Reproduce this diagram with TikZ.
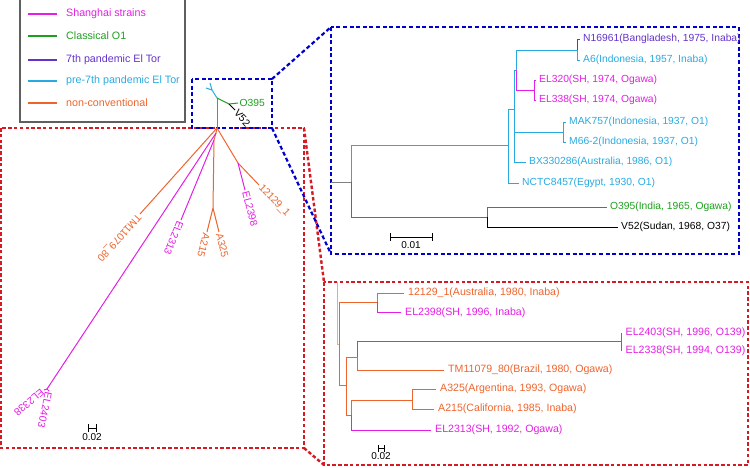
\documentclass[tikz,border=0pt]{standalone}
\usepackage{fontspec}
\setmainfont{Liberation Sans}
\definecolor{shmag}{RGB}{228,30,228}
\definecolor{clgreen}{RGB}{30,160,30}
\definecolor{elpurple}{RGB}{100,50,200}
\definecolor{precyan}{RGB}{40,170,225}
\definecolor{ncorange}{RGB}{238,100,45}
\definecolor{peach}{RGB}{240,170,130}
\definecolor{bluebox}{RGB}{0,0,205}
\definecolor{redbox}{RGB}{215,25,35}
\definecolor{legendgray}{RGB}{95,95,95}
\definecolor{rootgray}{RGB}{128,128,128}
\begin{document}
\begin{tikzpicture}[x=1pt,y=-1pt,
  br/.style={line width=1pt},
  lb/.style={inner xsep=3.5pt, inner ysep=0pt, anchor=west, font=\fontsize{10.3}{12}\selectfont},
  lr/.style={inner xsep=4.5pt, inner ysep=0pt, anchor=west, font=\fontsize{10.6}{12}\selectfont},
  lu/.style={inner xsep=1.5pt, inner ysep=0pt, anchor=west, font=\fontsize{10.3}{12}\selectfont},
  lg/.style={inner sep=0pt, anchor=west, font=\fontsize{10.7}{12}\selectfont},
  sc/.style={inner sep=0pt, font=\fontsize{10}{12}\selectfont},
  keyline/.style={line width=1.6pt},
  bluedash/.style={draw=bluebox, line width=2.2pt, dash pattern=on 4pt off 2.6pt},
  reddash/.style={draw=redbox, line width=2.4pt, dash pattern=on 3.5pt off 2.3pt}]
\useasboundingbox (0,0) rectangle (750,467);

% ---------- legend ----------
\draw[draw=legendgray, line width=1.3pt] (20,-2) rectangle (185,122);
\coordinate (k1) at (28,14);  \node[lg, text=shmag] (kt1) at (66,14) {Shanghai strains};
\coordinate (k2) at (28,36);  \node[lg, text=clgreen] (kt2) at (66,36) {Classical O1};
\coordinate (k3) at (28,60);  \node[lg, text=elpurple] (kt3) at (66,60) {7th pandemic El Tor};
\coordinate (k4) at (28,81);  \node[lg, text=precyan] (kt4) at (66,81) {pre-7th pandemic El Tor};
\coordinate (k5) at (28,103); \node[lg, text=ncorange] (kt5) at (66,103) {non-conventional};
\draw[keyline, shmag] (k1) -- ++(29,0);
\draw[keyline, clgreen] (k2) -- ++(29,0);
\draw[keyline, elpurple] (k3) -- ++(29,0);
\draw[keyline, precyan] (k4) -- ++(29,0);
\draw[keyline, ncorange] (k5) -- ++(29,0);

% ---------- zoom boxes ----------
\coordinate (rs1) at (1,128);  \coordinate (rs2) at (304,448);
\coordinate (rs3) at (304,128); \coordinate (rs4) at (304,448);
\coordinate (rb1) at (324,282); \coordinate (rb2) at (748,465);
\coordinate (rb3) at (324,465);
\draw[reddash] (rs1) rectangle (rs2);
\draw[reddash] (rb1) rectangle (rb2);
\draw[reddash] (rs3) -- (rb1);
\draw[reddash] (rs4) -- (rb3);
\coordinate (bs1) at (192,79);  \coordinate (bs2) at (272,128);
\coordinate (bs3) at (272,79);
\coordinate (bb1) at (331,27);  \coordinate (bb2) at (739,254);
\coordinate (bb3) at (331,254);
\draw[bluedash] (bs1) rectangle (bs2);
\draw[bluedash] (bb1) rectangle (bb2);
\draw[bluedash] (bs3) -- (bb1);
\draw[bluedash] (bs2) -- (bb3);

% ---------- unrooted tree ----------
\coordinate (uR) at (217,128);
\coordinate (uT) at (217,98);
\coordinate (uC) at (212,90);
\coordinate (uC1) at (206,88);
\coordinate (uC2) at (210,83);
\coordinate (uG) at (229,104);
\coordinate (uS1) at (216,133);
\coordinate (uS2) at (214,140);
\coordinate (uA) at (213,208);
\coordinate (uB) at (238,163);
\coordinate (uE) at (47,389);
\node[lu, text=clgreen] (uO395) at (238,103) {O395};
\node[lu, rotate=-48] (uV52) at (235,110) {V52};
\node[lu, text=ncorange, rotate=228] (uTM) at (140,214) {TM11079\_80};
\node[lu, text=shmag, rotate=248] (uEL2313) at (181,220) {EL2313};
\node[lu, text=ncorange, rotate=256] (uA215) at (207,232) {A215};
\node[lu, text=ncorange, rotate=-76] (uA325) at (219,232) {A325};
\node[lu, text=shmag, rotate=-75] (uEL2398) at (245,190) {EL2398};
\node[lu, text=ncorange, rotate=-46] (u12129) at (259,185) {12129\_1};
\node[lu, text=shmag, rotate=258] (uEL2403) at (49,391) {EL2403};
\node[lu, text=shmag, rotate=220] (uEL2338) at (44,390) {EL2338};

\draw[br, rootgray] (uR) -- (uT);
\draw[br, precyan] (uT) -- (uC) -- (uC1) (uC) -- (uC2);
\draw[br, clgreen] (uT) -- (uG) -- (uO395.west);
\draw[br, black] (uG) -- (uV52.west);
\draw[br, ncorange] (uR) -- (uS1) -- (uS2) -- (uA);
\draw[br, shmag] (uS1) -- (uE);
\draw[br, shmag] (uE) -- (uEL2403.west) (uE) -- (uEL2338.west);
\draw[br, shmag] (uS2) -- (uEL2313.west);
\draw[br, ncorange] (uA) -- (uA215.west) (uA) -- (uA325.west);
\draw[br, ncorange] (uR) -- (uTM.west);
\draw[br, ncorange] (uR) -- (uB) -- (u12129.west);
\draw[br, shmag] (uB) -- (uEL2398.west);

% scale bar (unrooted)
\draw[line width=0.8pt] (88,428) -- (96,428) (88,424) -- (88,432) (96,424) -- (96,432);
\node[sc] (us) at (92,437.5) {0.02};

% ---------- blue zoom tree ----------
\coordinate (b0) at (331,182);
\coordinate (bA) at (351,182);
\coordinate (bB) at (508,145);
\coordinate (bC) at (514,109);
\coordinate (bD) at (516,70);
\coordinate (bN) at (577,50);
\coordinate (bL) at (534,90);
\coordinate (bM) at (563,132);
\coordinate (bG) at (487,217);
\node[lb, text=elpurple] (tN16961) at (579.5,39) {N16961(Bangladesh, 1975, Inaba)};
\node[lb, text=precyan] (tA6) at (579.5,60) {A6(Indonesia, 1957, Inaba)};
\node[lb, text=shmag] (tEL320) at (535.5,80) {EL320(SH, 1974, Ogawa)};
\node[lb, text=shmag] (tEL338) at (535.5,100) {EL338(SH, 1974, Ogawa)};
\node[lb, text=precyan] (tMAK) at (565.5,122) {MAK757(Indonesia, 1937, O1)};
\node[lb, text=precyan] (tM66) at (565.5,142) {M66-2(Indonesia, 1937, O1)};
\node[lb, text=precyan] (tBX) at (525.5,162) {BX330286(Australia, 1986, O1)};
\node[lb, text=precyan] (tNCTC) at (518.5,183) {NCTC8457(Egypt, 1930, O1)};
\node[lb, text=clgreen] (tO395) at (606.5,207) {O395(India, 1965, Ogawa)};
\node[lb] (tV52) at (617.5,227) {V52(Sudan, 1968, O37)};

\draw[br, rootgray] (b0) -- (bA);
\draw[br, precyan] (bA) |- (bB);
\draw[br, clgreen] (bA) |- (bG);
\draw[br, precyan] (bB) |- (bC);
\draw[br, precyan] (bB) |- (tNCTC.west);
\draw[br, precyan] (bC) |- (bD);
\draw[br, precyan] (bC) |- (bM);
\draw[br, precyan] (bC) |- (tBX.west);
\draw[br, precyan] (bD) |- (bN);
\draw[br, shmag] (bD) |- (bL);
\draw[br, elpurple] (bN) |- (tN16961.west);
\draw[br, precyan] (bN) |- (tA6.west);
\draw[br, shmag] (bL) |- (tEL320.west);
\draw[br, shmag] (bL) |- (tEL338.west);
\draw[br, precyan] (bM) |- (tMAK.west);
\draw[br, precyan] (bM) |- (tM66.west);
\draw[br, clgreen] (bG) |- (tO395.west);
\draw[br, black] (bG) |- (tV52.west);

% scale bar (blue)
\draw[line width=0.9pt] (390,237) -- (432,237) (390,233) -- (390,241) (432,233) -- (432,241);
\node[sc] (bs) at (411,245.5) {0.01};

% ---------- red zoom tree ----------
\coordinate (r0) at (337,282);
\coordinate (rA) at (339,344);
\coordinate (rB) at (377,302);
\coordinate (rC) at (346,385);
\coordinate (rD) at (357,357);
\coordinate (rE) at (351,415);
\coordinate (rF) at (621,341);
\coordinate (rH) at (412,400);
\node[lr, text=ncorange] (t12129) at (403.5,293) {12129\_1(Australia, 1980, Inaba)};
\node[lr, text=shmag] (tEL2398) at (400.5,312.5) {EL2398(SH, 1996, Inaba)};
\node[lr, text=shmag] (tEL2403) at (621,333) {EL2403(SH, 1996, O139)};
\node[lr, text=shmag] (tEL2338) at (621,351) {EL2338(SH, 1994, O139)};
\node[lr, text=ncorange] (tTM) at (443.5,370) {TM11079\_80(Brazil, 1980, Ogawa)};
\node[lr, text=ncorange] (tA325) at (435.5,389) {A325(Argentina, 1993, Ogawa)};
\node[lr, text=ncorange] (tA215) at (433.5,409) {A215(California, 1985, Inaba)};
\node[lr, text=shmag] (tEL2313) at (430.5,430) {EL2313(SH, 1992, Ogawa)};

\draw[br, peach] (r0) |- (rA);
\draw[br, ncorange] (rA) |- (rB);
\draw[br, ncorange] (rA) |- (rC);
\draw[br, ncorange] (rB) |- (t12129.west);
\draw[br, shmag] (rB) |- (tEL2398.west);
\draw[br, ncorange] (rC) |- (rD);
\draw[br, ncorange] (rC) |- (rE);
\draw[br, shmag] (rD) |- (rF);
\draw[br, ncorange] (rD) |- (tTM.west);
\draw[br, shmag] (rF) |- (tEL2403.west);
\draw[br, shmag] (rF) |- (tEL2338.west);
\draw[br, ncorange] (rE) |- (rH);
\draw[br, shmag] (rE) |- (tEL2313.west);
\draw[br, ncorange] (rH) |- (tA325.west);
\draw[br, ncorange] (rH) |- (tA215.west);

% scale bar (red)
\draw[line width=0.8pt] (378,448.5) -- (384,448.5) (378,445) -- (378,452) (384,445) -- (384,452);
\node[sc] (rs) at (381,456.5) {0.02};
\end{tikzpicture}
\end{document}
